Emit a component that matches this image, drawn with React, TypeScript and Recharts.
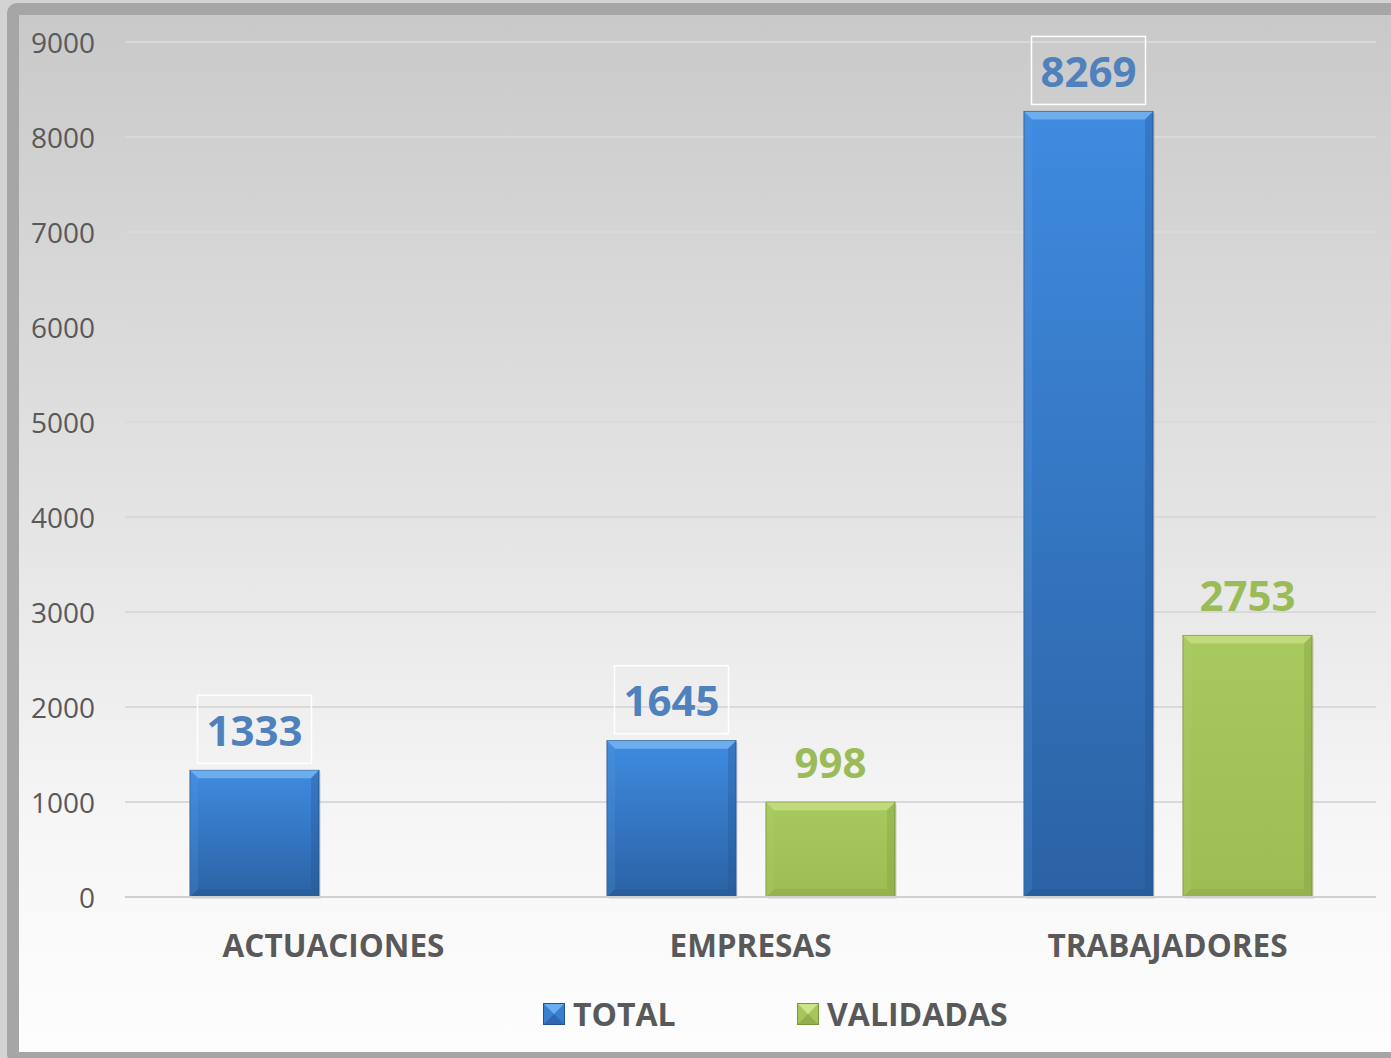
import { BarChart, Bar, XAxis, YAxis, CartesianGrid, Legend, LabelList } from "recharts";

const CATEGORIES = ["ACTUACIONES", "EMPRESAS", "TRABAJADORES"];
const TOTAL = [1333, 1645, 8269];
const VALIDADAS = [null, 998, 2753];
const Y_TICKS = [0, 1000, 2000, 3000, 4000, 5000, 6000, 7000, 8000, 9000];

const data = CATEGORIES.map((name, i) => ({
  name,
  total: TOTAL[i],
  validadas: VALIDADAS[i],
}));

const FONT = "'Open Sans', sans-serif";
const TEXT_GRAY = "#595959";
const BLUE_TEXT = "#4f81bd";
const GREEN_TEXT = "#9bbb59";

const BLUE = {
  body: "url(#gradTotal)",
  top: "#8cc6f7",
  left: "#5b9ee6",
  right: "#23508a",
  bottom: "#214f87",
  stroke: "#2b5a92",
};

const GREEN = {
  body: "url(#gradValidadas)",
  top: "#d2e891",
  left: "#b6d46c",
  right: "#7a973b",
  bottom: "#7c993e",
  stroke: "#7b963d",
};

function BevelBar(props: any) {
  const { x, y, width, height, palette } = props;
  if (!height || height <= 0) return null;
  const b = Math.min(8, height / 2);
  return (
    <g>
      <rect x={x + 2} y={y + 2} width={width} height={height} fill="rgba(0,0,0,0.08)" />
      <rect x={x} y={y} width={width} height={height} fill={palette.body} stroke={palette.stroke} strokeWidth={1} />
      <polygon
        points={`${x},${y} ${x + width},${y} ${x + width - b},${y + b} ${x + b},${y + b}`}
        fill={palette.top}
        opacity={0.6}
      />
      <polygon
        points={`${x},${y} ${x + b},${y + b} ${x + b},${y + height - b} ${x},${y + height}`}
        fill={palette.left}
        opacity={0.2}
      />
      <polygon
        points={`${x + width},${y} ${x + width},${y + height} ${x + width - b},${y + height - b} ${x + width - b},${y + b}`}
        fill={palette.right}
        opacity={0.3}
      />
      <polygon
        points={`${x},${y + height} ${x + b},${y + height - b} ${x + width - b},${y + height - b} ${x + width},${y + height}`}
        fill={palette.bottom}
        opacity={0.25}
      />
    </g>
  );
}

function TotalLabel(props: any) {
  const { x, y, width, value } = props;
  if (value == null) return null;
  const cx = x + width / 2;
  return (
    <g>
      <rect x={cx - 57} y={y - 75} width={114} height={68} fill="none" stroke="#ffffff" strokeWidth={1.5} />
      <text
        x={cx}
        y={y - 41}
        textAnchor="middle"
        dominantBaseline="central"
        fill={BLUE_TEXT}
        fontFamily={FONT}
        fontWeight={700}
        fontSize={42}
      >
        {value}
      </text>
    </g>
  );
}

function ValidadasLabel(props: any) {
  const { x, y, width, value } = props;
  if (value == null) return null;
  return (
    <text
      x={x + width / 2}
      y={y - 41}
      textAnchor="middle"
      dominantBaseline="central"
      fill={GREEN_TEXT}
      fontFamily={FONT}
      fontWeight={700}
      fontSize={42}
    >
      {value}
    </text>
  );
}

function YTick(props: any) {
  const { x, y, payload } = props;
  return (
    <text x={x - 30} y={y} textAnchor="end" dominantBaseline="central" fill={TEXT_GRAY} fontFamily={FONT} fontSize={28}>
      {payload.value}
    </text>
  );
}

function XTick(props: any) {
  const { x, y, payload } = props;
  return (
    <text x={x} y={y + 47} textAnchor="middle" dominantBaseline="central" fill={TEXT_GRAY} fontFamily={FONT} fontWeight={700} fontSize={31.5}>
      {payload.value}
    </text>
  );
}

function Swatch({ light, dark, mid }: { light: string; dark: string; mid: string }) {
  return (
    <svg width={22} height={22} style={{ display: "block" }}>
      <rect x={0} y={0} width={22} height={22} fill={mid} />
      <polygon points="0,0 22,0 11,11" fill={light} />
      <polygon points="0,22 11,11 22,22" fill={dark} opacity={0.5} />
      <rect x={0.5} y={0.5} width={21} height={21} fill="none" stroke={dark} />
    </svg>
  );
}

function LegendContent() {
  const itemStyle: React.CSSProperties = {
    position: "absolute",
    top: 17,
    display: "flex",
    alignItems: "center",
    gap: 8,
    fontFamily: FONT,
    fontWeight: 700,
    fontSize: 32,
    lineHeight: "40px",
    color: TEXT_GRAY,
  };
  return (
    <div style={{ position: "relative", height: 75, width: 1372 }}>
      <div style={{ ...itemStyle, left: 524 }}>
        <Swatch light="#6aaef0" mid="#3a7fcf" dark="#24528c" />
        <span>TOTAL</span>
      </div>
      <div style={{ ...itemStyle, left: 778 }}>
        <Swatch light="#cde58a" mid="#a6c65c" dark="#7a963c" />
        <span>VALIDADAS</span>
      </div>
    </div>
  );
}

export default function App() {
  return (
    <div
      style={{
        position: "absolute",
        left: 0,
        top: 0,
        width: 1391,
        height: 1058,
        overflow: "hidden",
        background: "#d3d3d3",
      }}
    >
      <div
        style={{
          position: "absolute",
          left: 7,
          top: 3,
          width: 1420,
          height: 1061,
          boxSizing: "border-box",
          border: "12px solid #a6a6a6",
          borderRadius: 10,
          background: "linear-gradient(to bottom, #c9c9c9 0%, #e2e2e2 45%, #f7f7f7 80%, #fdfdfd 100%)",
        }}
      >
        <BarChart
          width={1372}
          height={1037}
          data={data}
          margin={{ top: 27, right: 15, left: 0, bottom: 0 }}
          barSize={129}
          barGap={30}
        >
          <defs>
            <linearGradient id="gradTotal" x1="0" y1="0" x2="0" y2="1">
              <stop offset="0%" stopColor="#3f8be0" />
              <stop offset="100%" stopColor="#2b62a4" />
            </linearGradient>
            <linearGradient id="gradValidadas" x1="0" y1="0" x2="0" y2="1">
              <stop offset="0%" stopColor="#a8c95e" />
              <stop offset="100%" stopColor="#9dbd54" />
            </linearGradient>
          </defs>
          <CartesianGrid vertical={false} stroke="#d9d9d9" strokeWidth={2} />
          <XAxis
            dataKey="name"
            height={80}
            axisLine={{ stroke: "#d0d0d0", strokeWidth: 2 }}
            tickLine={false}
            tickSize={0}
            tickMargin={0}
            tick={<XTick />}
          />
          <YAxis
            width={106}
            domain={[0, 9000]}
            ticks={Y_TICKS}
            axisLine={false}
            tickLine={false}
            tickSize={0}
            tickMargin={0}
            tick={<YTick />}
          />
          <Legend verticalAlign="bottom" height={75} content={<LegendContent />} />
          <Bar
            dataKey="total"
            name="TOTAL"
            fill="#3a7fcf"
            isAnimationActive={false}
            shape={(p: any) => <BevelBar {...p} palette={BLUE} />}
          >
            <LabelList dataKey="total" content={<TotalLabel />} />
          </Bar>
          <Bar
            dataKey="validadas"
            name="VALIDADAS"
            fill="#a6c65c"
            isAnimationActive={false}
            shape={(p: any) => <BevelBar {...p} palette={GREEN} />}
          >
            <LabelList dataKey="validadas" content={<ValidadasLabel />} />
          </Bar>
        </BarChart>
      </div>
    </div>
  );
}
